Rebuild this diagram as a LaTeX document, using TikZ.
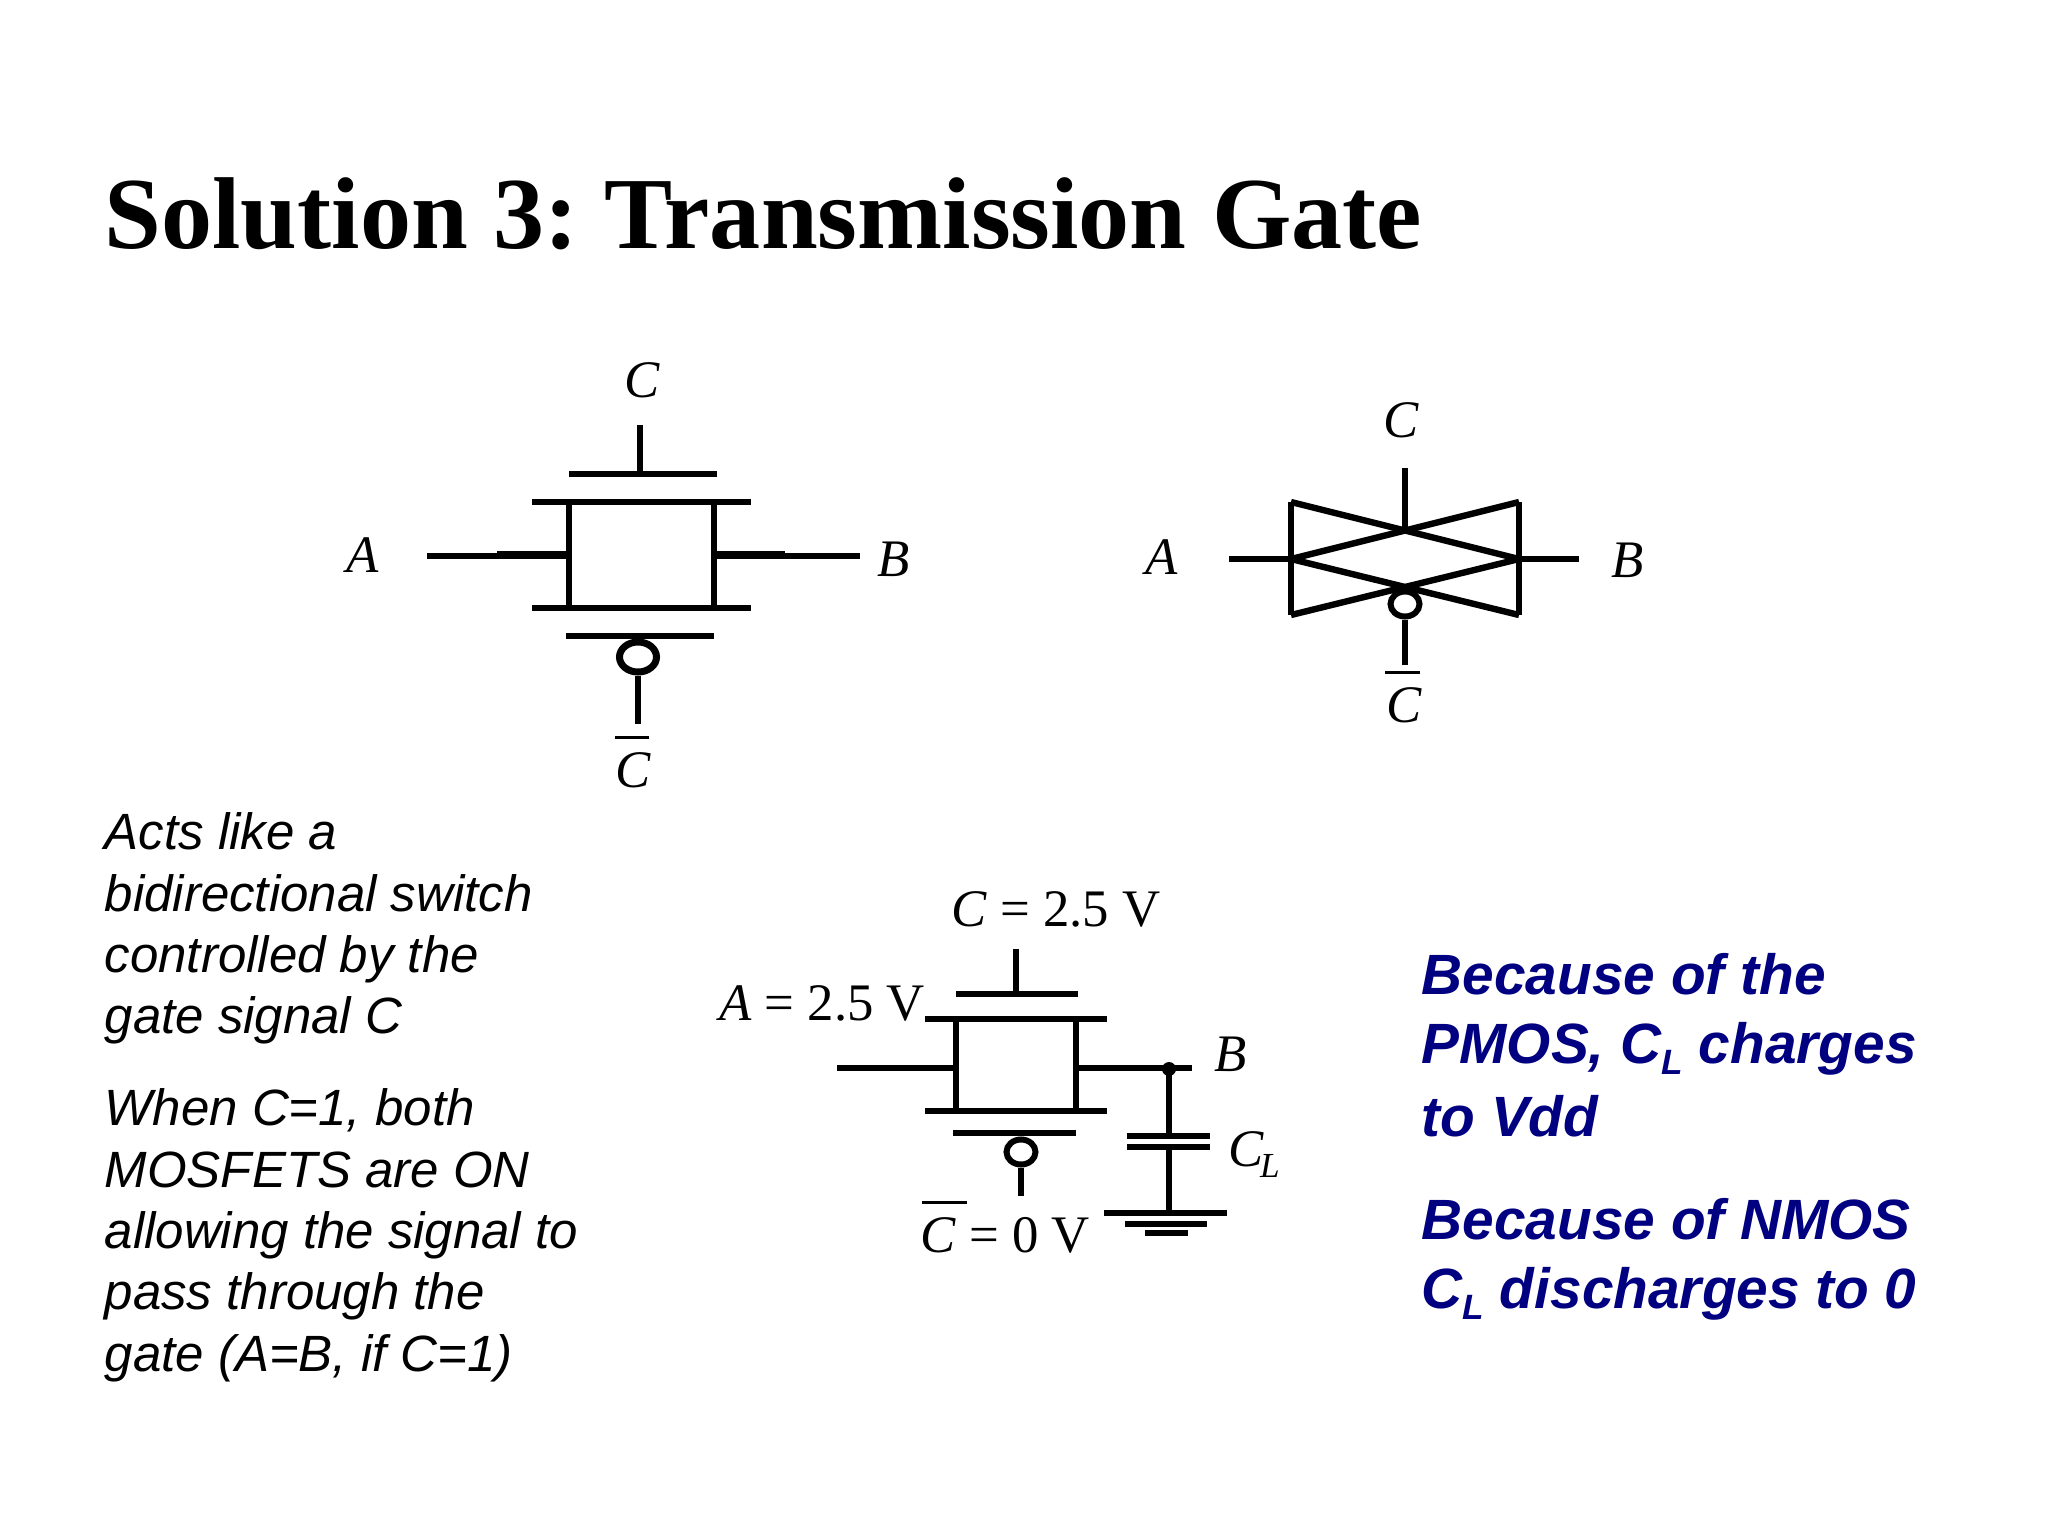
\documentclass[tikz,border=0pt]{standalone}
\usepackage{fontspec}
\usetikzlibrary{shapes.geometric}
\setmainfont{Liberation Serif}
\setsansfont{Liberation Sans}
\definecolor{navyblue}{RGB}{0,0,128}
\newcommand{\subL}[1]{\smash{\raisebox{-3.3pt}{\fontsize{#1}{#1}\selectfont L}}}
\tikzset{
	wire/.style={line width=6.4pt*0.2845},
	widewire/.style={line width=8.4pt*0.2845},
	thinbar/.style={line width=3pt*0.2845},
	bubble/.style={ellipse, draw, line width=6pt*0.2845, minimum width=0.29cm, minimum height=0.25cm, inner sep=0pt},
	bigbubble/.style={bubble, line width=7pt*0.2845, minimum width=0.37cm, minimum height=0.3cm},
	sym/.style={font=\fontsize{15}{18}\selectfont, inner sep=0pt},
	note/.style={font=\frenchspacing\fontsize{14.5}{17.45}\selectfont\sffamily\itshape, anchor=north west, align=left, inner sep=0pt},
	bluenote/.style={font=\frenchspacing\fontsize{16.15}{19.4}\selectfont\sffamily\bfseries\itshape, text=navyblue, anchor=north west, align=left, inner sep=0pt},
}

\begin{document}
\begin{tikzpicture}[x=0.01cm, y=-0.01cm]
	\useasboundingbox[fill=white] (0,0) rectangle (2048,1536);

	\node[font=\frenchspacing\fontsize{29.04}{34}\selectfont\bfseries, anchor=base west, inner sep=0pt] (title) at (104,248) {Solution 3: Transmission Gate};

	% MOSFET pair
	\coordinate (gatetop) at (640,425);
	\coordinate (gatemid) at (640,474);
	\coordinate (wireA) at (427,556);
	\coordinate (joinA) at (497,556);
	\coordinate (srcA) at (569,555);
	\coordinate (srcB) at (714,555);
	\coordinate (joinB) at (785,556);
	\coordinate (wireB) at (860,556);
	\draw[wire] (gatetop) -- (gatemid);
	\draw[wire] (569,474) -- (717,474);
	\draw[wire] (532,502) -- (751,502);
	\draw[wire] (532,608) -- (751,608);
	\draw[wire] (569,502) -- (569,608);
	\draw[wire] (714,502) -- (714,608);
	\draw[wire] (wireA) -- (joinA);
	\draw[widewire] (joinA |- srcA) -- (srcA);
	\draw[widewire] (srcB) -- (joinB |- srcB);
	\draw[wire] (joinB) -- (wireB);
	\draw[wire] (566,636) -- (714,636);
	\node[bubble, bigbubble] (bub) at (638,657) {};
	\coordinate (gatebot) at (638,724);
	\draw[wire] (bub) -- (gatebot);
	\draw[thinbar] (615,737) -- (649,737);
	\node[sym] (Ctop) at (642,380) {\textit{C}};
	\node[sym] (Cbot) at (633,770) {\textit{C}};
	\node[sym] (Aleft) at (363,555) {\textit{A}};
	\node[sym] (Bright) at (894,559) {\textit{B}};

	% symbol
	\coordinate (tl) at (1291,502);
	\coordinate (ml) at (1291,559);
	\coordinate (bl) at (1291,615);
	\coordinate (tr) at (1519,502);
	\coordinate (mr) at (1519,559);
	\coordinate (br) at (1519,615);
	\coordinate (stemtop) at (1405,468);
	\coordinate (stemmid) at (1405,531);
	\draw[wire] (tl) -- (bl);
	\draw[wire] (tr) -- (br);
	\draw[wire] (tl) -- (mr) -- (bl);
	\draw[wire] (tr) -- (ml) -- (br);
	\draw[wire] (stemtop) -- (stemmid);
	\draw[wire] (1229,559) -- (ml);
	\draw[wire] (mr) -- (1579,559);
	\node[bubble] (bubsym) at (1405,604) {};
	\coordinate (stembot) at (1405,665);
	\draw[wire] (bubsym) -- (stembot);
	\draw[thinbar] (1385,672) -- (1420,672);
	\node[sym] (Csymtop) at (1401,420) {\textit{C}};
	\node[sym] (Csymbot) at (1404,705) {\textit{C}};
	\node[sym] (Asym) at (1162,557) {\textit{A}};
	\node[sym] (Bsym) at (1628,560) {\textit{B}};

	% with load
	\coordinate (lgatetop) at (1016,949);
	\coordinate (lgatemid) at (1016,994);
	\coordinate (lA) at (837,1068);
	\coordinate (lsrcA) at (956,1068);
	\coordinate (lsrcB) at (1075,1068);
	\coordinate (lB) at (1192,1068);
	\coordinate (ldot) at (1169,1069);
	\coordinate (capa) at (1169,1136);
	\coordinate (capb) at (1169,1147);
	\coordinate (gnd) at (1169,1213);
	\draw[wire] (lgatetop) -- (lgatemid);
	\draw[wire] (956,994) -- (1078,994);
	\draw[wire] (925,1019) -- (1107,1019);
	\draw[wire] (925,1111) -- (1107,1111);
	\draw[wire] (956,1019) -- (956,1111);
	\draw[wire] (1076,1019) -- (1076,1111);
	\draw[wire] (lA) -- (lsrcA);
	\draw[wire] (lsrcB) -- (lB);
	\fill (ldot) circle (7);
	\draw[wire] (ldot) -- (capa);
	\draw[wire] (capb) -- (gnd);
	\draw[wire] (1127,1136) -- (1210,1136);
	\draw[wire] (1127,1147) -- (1210,1147);
	\draw[wire] (1104,1213) -- (1227,1213);
	\draw[wire] (1125,1224) -- (1207,1224);
	\draw[wire] (1145,1233) -- (1188,1233);
	\draw[wire] (953,1133) -- (1076,1133);
	\node[bubble] (lbub) at (1021,1152) {};
	\coordinate (lgatebot) at (1021,1196);
	\draw[wire] (lbub) -- (lgatebot);
	\draw[thinbar] (922,1202) -- (967,1202);
	\node[sym] (Cval) at (1056,909) {\textit{C} = 2.5 V};
	\node[sym] (Aval) at (822,1003) {\textit{A} = 2.5 V};
	\node[sym] (Cbarval) at (1005,1235) {\textit{C} = 0 V};
	\node[sym] (Bload) at (1231,1054) {\textit{B}};
	\node[sym] (CL) at (1254,1149) {\textit{C\kern-1pt\subL{10}}};

	% text
	\node[note] (acts) at (104,812) {Acts like a\\bidirectional switch\\controlled by the\\gate signal C};
	\node[note] (when) at (104,1088) {When C=1, both\\MOSFETS are ON\\allowing the signal to\\pass through the\\gate (A=B, if C=1)};
	\node[bluenote] (because) at (1421,953) {Because of the\\PMOS, C\subL{10} charges\\[1.5pt]to Vdd};
	\node[bluenote] (nmos) at (1421,1198) {Because of NMOS\\C\subL{10} discharges to 0};
\end{tikzpicture}
\end{document}
